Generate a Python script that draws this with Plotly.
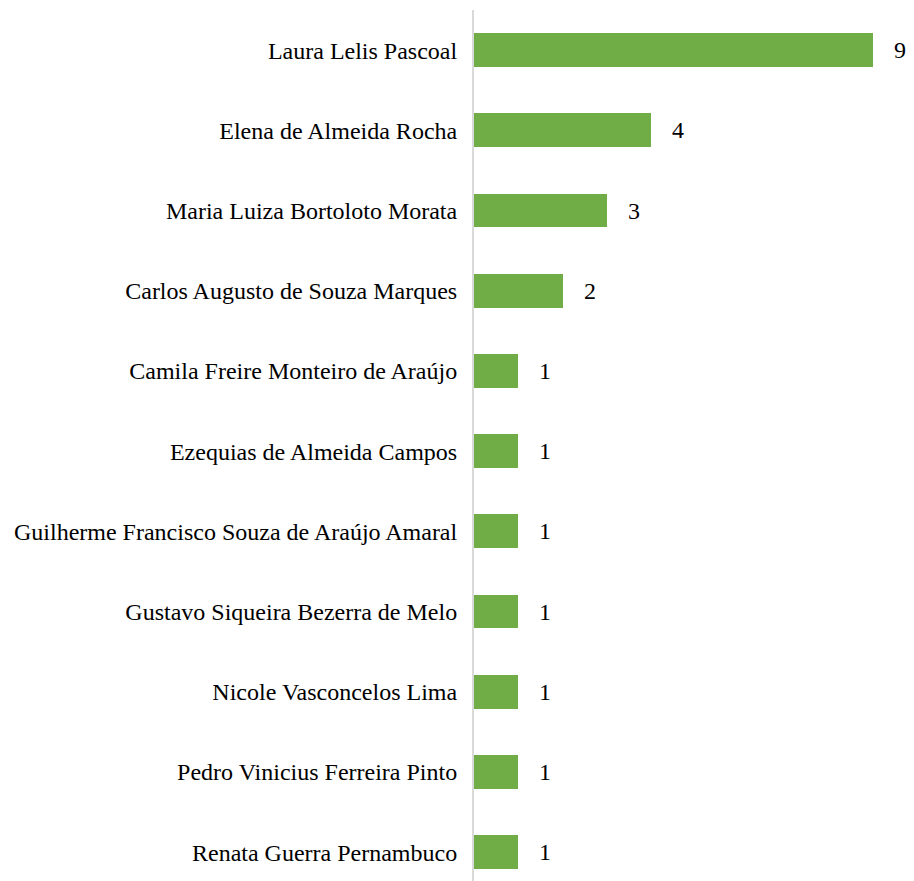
import plotly.graph_objects as go

names = [
    "Laura Lelis Pascoal",
    "Elena de Almeida Rocha",
    "Maria Luiza Bortoloto Morata",
    "Carlos Augusto de Souza Marques",
    "Camila Freire Monteiro de Araújo",
    "Ezequias de Almeida Campos",
    "Guilherme Francisco Souza de Araújo Amaral",
    "Gustavo Siqueira Bezerra de Melo",
    "Nicole Vasconcelos Lima",
    "Pedro Vinicius Ferreira Pinto",
    "Renata Guerra Pernambuco",
]
counts = [9, 4, 3, 2, 1, 1, 1, 1, 1, 1, 1]

serif = "Liberation Serif"

fig = go.Figure()
fig.add_trace(go.Bar(
    y=names, x=counts, orientation="h",
    marker=dict(color="#70AD47", line=dict(width=0)),
    width=0.42,
    text=counts, texttemplate="   %{x}", textposition="outside",
    textfont=dict(family=serif, size=24, color="#000000"),
    cliponaxis=False,
))

# page has an 8px body margin, so the figure is offset by that amount
fig.update_layout(
    width=906, height=873,
    margin=dict(l=466, r=0, t=2, b=0),
    paper_bgcolor="white", plot_bgcolor="white",
    font=dict(family=serif, size=24, color="#000000"),
    showlegend=False,
    bargap=0,
)
# slightly tighter x scale so the "9" label stays inside the window
fig.update_xaxes(range=[0, 9.93], showgrid=False, showticklabels=False,
                 zeroline=False, showline=False)
fig.update_yaxes(type="category", range=[10.36, -0.5], showgrid=False,
                 showline=True, linecolor="#d9d9d9", linewidth=2,
                 ticks="", ticklabelstandoff=10)

fig.write_html("out.html")
